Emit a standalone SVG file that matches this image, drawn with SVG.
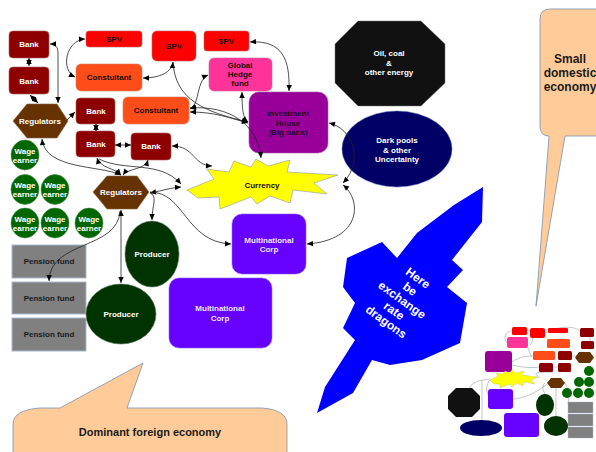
<svg xmlns="http://www.w3.org/2000/svg" width="596" height="452" viewBox="0 0 596 452">
<defs>
<marker id="ah" viewBox="0 0 10 10" refX="10" refY="5" markerWidth="7" markerHeight="6" markerUnits="userSpaceOnUse" orient="auto-start-reverse"><path d="M0,0.5 L10,5 L0,9.5 Z" fill="#000"/></marker>
<style>
.c{fill:none;stroke:#222;stroke-width:0.8}
.m{fill:none;stroke:#888;stroke-width:0.5}
.t{font-family:"Liberation Sans",Arial,sans-serif;font-size:8px;font-weight:bold;text-anchor:middle}
.w{fill:#fff}
.d{fill:#1a0a0a}
.bank{fill:#8e0000;stroke:#b06060;stroke-width:0.6}
.spv{fill:#ff0000;stroke:#c06060;stroke-width:0.6}
.cons{fill:#ff4d19;stroke:#d08060;stroke-width:0.6}
.reg{fill:#663300;stroke:#886644;stroke-width:0.6}
.wage{fill:#006600;stroke:#4a8a4a;stroke-width:0.6}
.pen{fill:#808080;stroke:#a8b8d0;stroke-width:1}
.prod{fill:#003300;stroke:#557755;stroke-width:0.6}
.mc{fill:#6600ff;stroke:#8866ff;stroke-width:0.6}
.call{fill:#ffcc99;stroke:#7890b0;stroke-width:0.8}
</style>
</defs>
<rect width="596" height="452" fill="#fff"/>

<!-- callouts -->
<g id="small-domestic-economy">
<path class="call" d="M550,9 H612 V136 H565 L536,306 L549,136 Q540,136 540,126 V19 Q540,9 550,9 Z"/>
<text class="t" style="font-size:12px" fill="#1a1a1a" x="570" y="63">Small</text>
<text class="t" style="font-size:12px" fill="#1a1a1a" x="570" y="77">domestic</text>
<text class="t" style="font-size:12px" fill="#1a1a1a" x="570" y="91">economy</text>
</g>
<g id="dominant-foreign-economy">
<path class="call" d="M13,424 Q13,410 40,408 H60 L143,363 L127,408 H262 Q287,410 287,424 V462 H13 Z"/>
<text class="t" style="font-size:11px" fill="#1a1a1a" x="150" y="436">Dominant foreign economy</text>
</g>

<!-- dragons arrow -->
<g id="dragons">
<polygon fill="#0000ff" points="483,187 454,205 417,233 397,258 382,242 347,258 343,287 355,303 343,328 355,340 325,387 317,413 353,393 372,360 390,365 422,360 460,343 467,303 447,287 463,270 452,260 482,222"/>
<text class="t w" style="font-size:12px" transform="translate(402,300) rotate(36)">
<tspan x="0" y="-23">Here</tspan><tspan x="0" y="-9.5">be</tspan><tspan x="0" y="4">exchange</tspan><tspan x="0" y="17.5">rate</tspan><tspan x="0" y="31">dragons</tspan>
</text>
</g>

<!-- nodes -->
<g id="bank1"><rect class="bank" x="9" y="31" width="40" height="27" rx="4"/><text class="t w" x="29" y="47">Bank</text></g>
<g id="bank2"><rect class="bank" x="9" y="67" width="40" height="27" rx="4"/><text class="t w" x="29" y="84">Bank</text></g>
<g id="regulators1"><polygon class="reg" points="13,121 27,104 57,104 68,121 57,138 27,138"/><text class="t w" x="40" y="124">Regulators</text></g>
<g id="spv1"><rect class="spv" x="86" y="31" width="56" height="16" rx="3"/><text class="t d" x="114" y="42">SPV</text></g>
<g id="spv2"><rect class="spv" x="152" y="31" width="44" height="30" rx="5"/><text class="t d" x="174" y="49">SPV</text></g>
<g id="spv3"><rect class="spv" x="204" y="31" width="45" height="20" rx="3"/><text class="t d" x="226" y="44">SPV</text></g>
<g id="consultant1"><rect class="cons" x="76" y="64" width="66" height="27" rx="5"/><text class="t d" x="109" y="80">Constultant</text></g>
<g id="consultant2"><rect class="cons" x="123" y="97" width="66" height="27" rx="5"/><text class="t d" x="156" y="113">Constultant</text></g>
<g id="bank3"><rect class="bank" x="76" y="98" width="39" height="26" rx="4"/><text class="t w" x="96" y="114">Bank</text></g>
<g id="bank4"><rect class="bank" x="76" y="131" width="39" height="26" rx="4"/><text class="t w" x="96" y="147">Bank</text></g>
<g id="bank5"><rect class="bank" x="131" y="133" width="40" height="27" rx="4"/><text class="t w" x="151" y="149">Bank</text></g>
<g id="global-hedge-fund"><rect x="209" y="58" width="63" height="33" rx="5" fill="#ff3399" stroke="#cc6699" stroke-width="0.6"/>
<text class="t d" x="240" y="68">Global</text><text class="t d" x="240" y="77">Hedge</text><text class="t d" x="240" y="86">fund</text></g>
<g id="investment-house"><rect x="249" y="92" width="79" height="61" rx="10" fill="#990099" stroke="#aa55aa" stroke-width="0.6"/>
<text class="t" fill="#2a002a" x="288" y="116">Investment</text><text class="t" fill="#2a002a" x="288" y="126">House</text><text class="t" fill="#2a002a" x="288" y="135">(Big bank)</text></g>
<g id="oil-coal-energy"><polygon fill="#111" stroke="#777" stroke-width="0.5" points="358,21 421,21 445,44 445,83 421,106 358,106 335,83 335,44"/>
<text class="t w" x="389" y="56">Oil, coal</text><text class="t w" x="389" y="66">&amp;</text><text class="t w" x="389" y="75">other energy</text></g>
<g id="dark-pools"><ellipse cx="397" cy="149" rx="55" ry="38" fill="#000066" stroke="#5566aa" stroke-width="0.5"/>
<text class="t w" x="397" y="143">Dark pools</text><text class="t w" x="397" y="152.5">&amp; other</text><text class="t w" x="397" y="162">Uncertainty</text></g>
<g id="currency"><polygon fill="#ffff00" stroke="#8899aa" stroke-width="0.6" points="187,190 214,179 207,169 229,172 234,161 251,167 256,159 268,166 290,160 287,172 338,175 314,183 327,194 293,190 290,203 270,196 257,204 251,197 220,209 219,197 198,198"/>
<text class="t d" x="262" y="188">Currency</text></g>
<g id="wage1"><ellipse class="wage" cx="25" cy="155" rx="14" ry="15"/><text class="t w" x="25" y="154">Wage</text><text class="t w" x="25" y="163">earner</text></g>
<g id="wage2"><ellipse class="wage" cx="25" cy="189.5" rx="14" ry="15"/><text class="t w" x="25" y="188">Wage</text><text class="t w" x="25" y="197">earner</text></g>
<g id="wage3"><ellipse class="wage" cx="55" cy="189.5" rx="14" ry="15"/><text class="t w" x="55" y="188">Wage</text><text class="t w" x="55" y="197">earner</text></g>
<g id="wage4"><ellipse class="wage" cx="25" cy="223" rx="14" ry="15"/><text class="t w" x="25" y="222">Wage</text><text class="t w" x="25" y="231">earner</text></g>
<g id="wage5"><ellipse class="wage" cx="55" cy="223" rx="14" ry="15"/><text class="t w" x="55" y="222">Wage</text><text class="t w" x="55" y="231">earner</text></g>
<g id="wage6"><ellipse class="wage" cx="89" cy="223" rx="14" ry="15"/><text class="t w" x="89" y="222">Wage</text><text class="t w" x="89" y="231">earner</text></g>
<g id="regulators2"><polygon class="reg" points="93,192 107,176 137,176 149,192 137,209 107,209"/><text class="t w" x="121" y="195">Regulators</text></g>
<g id="pension1"><rect class="pen" x="12" y="245" width="74" height="33"/><text class="t" fill="#1a1a1a" x="49" y="264">Pension fund</text></g>
<g id="pension2"><rect class="pen" x="12" y="282" width="74" height="32"/><text class="t" fill="#1a1a1a" x="49" y="301">Pension fund</text></g>
<g id="pension3"><rect class="pen" x="12" y="318" width="74" height="33"/><text class="t" fill="#1a1a1a" x="49" y="337">Pension fund</text></g>
<g id="producer1"><ellipse class="prod" cx="152" cy="254" rx="27" ry="33"/><text class="t w" x="152" y="257">Producer</text></g>
<g id="producer2"><ellipse class="prod" cx="121" cy="314" rx="35" ry="30"/><text class="t w" x="121" y="317">Producer</text></g>
<g id="multinational1"><rect class="mc" x="232" y="214" width="74" height="60" rx="10"/><text class="t" fill="#f0e8ff" x="269" y="243">Multinational</text><text class="t" fill="#f0e8ff" x="269" y="252">Corp</text></g>
<g id="multinational2"><rect class="mc" x="169" y="278" width="103" height="70" rx="10"/><text class="t" fill="#f0e8ff" x="220" y="311">Multinational</text><text class="t" fill="#f0e8ff" x="220" y="321">Corp</text></g>

<!-- connectors -->
<g id="connectors">
<path class="c" marker-start="url(#ah)" marker-end="url(#ah)" d="M50,44 C56,44 58,47 58,54 L58,103"/>
<path class="c" marker-start="url(#ah)" marker-end="url(#ah)" d="M29,58 L29,66"/>
<path class="c" marker-start="url(#ah)" marker-end="url(#ah)" d="M30,95 L38,103"/>
<path class="c" marker-end="url(#ah)" d="M67,120 L75,112"/>
<path class="c" marker-start="url(#ah)" marker-end="url(#ah)" d="M96,124 L96,131"/>
<path class="c" marker-start="url(#ah)" marker-end="url(#ah)" d="M115,145 L131,145"/>
<path class="c" marker-start="url(#ah)" marker-end="url(#ah)" d="M85,39 C66,40 60,70 75,77"/>
<path class="c" marker-start="url(#ah)" marker-end="url(#ah)" d="M173,62 C172,72 160,78 143,78"/>
<path class="c" marker-end="url(#ah)" d="M173,62 C175,100 205,112 248,122"/>
<path class="c" marker-start="url(#ah)" marker-end="url(#ah)" d="M190,109 C200,105 196,80 208,75"/>
<path class="c" marker-start="url(#ah)" marker-end="url(#ah)" d="M190,112 C215,112 230,118 248,123"/>
<path class="c" marker-start="url(#ah)" marker-end="url(#ah)" d="M190,108 C230,105 258,125 261,158"/>
<path class="c" marker-start="url(#ah)" marker-end="url(#ah)" d="M242,92 C242,110 243,118 248,122"/>
<path class="c" marker-start="url(#ah)" marker-end="url(#ah)" d="M250,42 C283,40 290,60 289,91"/>
<path class="c" marker-start="url(#ah)" marker-end="url(#ah)" d="M329,123 C352,128 365,160 343,183"/>
<path class="c" marker-start="url(#ah)" marker-end="url(#ah)" d="M343,185 C362,200 362,240 307,244"/>
<path class="c" marker-start="url(#ah)" marker-end="url(#ah)" d="M172,146 C195,146 192,165 212,166"/>
<path class="c" marker-start="url(#ah)" marker-end="url(#ah)" d="M42,139 C45,170 100,165 121,175"/>
<path class="c" marker-start="url(#ah)" marker-end="url(#ah)" d="M97,158 C100,168 115,168 121,175"/>
<path class="c" marker-start="url(#ah)" marker-end="url(#ah)" d="M148,160 C145,170 128,168 123,175"/>
<path class="c" marker-end="url(#ah)" d="M99,159 C125,172 160,160 181,184"/>
<path class="c" marker-start="url(#ah)" marker-end="url(#ah)" d="M150,193 C165,190 170,188 181,187"/>
<path class="c" marker-end="url(#ah)" d="M150,193 C158,196 152,205 152,220"/>
<path class="c" marker-end="url(#ah)" d="M150,192 C185,192 185,242 231,244"/>
<path class="c" marker-start="url(#ah)" marker-end="url(#ah)" d="M121,210 L121,283"/>
<path class="c" marker-end="url(#ah)" d="M120,211 C118,250 50,240 49,281"/>
</g>

<!-- thumbnail copy -->
<g id="thumbnail">
<path class="m" d="M512,331 C505,331 503,338 507,343 M527,330 C533,330 535,340 530,345 M545,333 C560,325 580,325 582,335 M590,337 L590,341 M512,362 C520,356 528,356 533,356 M512,365 C525,368 535,368 539,367 M528,348 C530,352 530,356 532,356 M572,356 L575,356 M553,367 L558,367 M490,380 C486,384 486,392 488,395 M482,380 L482,420 M565,383 C568,388 570,395 568,404 M556,388 L556,416 M545,383 C540,387 545,393 545,394 M513,399 C525,399 540,390 547,384 M470,388 C470,384 478,380 490,379 M540,378 C535,374 530,372 553,372"/>
<rect x="512" y="327" width="15" height="8" rx="1.5" fill="#ff0000"/>
<rect x="530" y="328" width="15" height="10" rx="2" fill="#ff0000"/>
<rect x="548" y="328" width="20" height="5" rx="1" fill="#ff0000"/>
<rect x="580" y="328" width="14" height="9" rx="1.5" fill="#8e0000"/>
<rect x="507" y="337" width="21" height="11" rx="2" fill="#ff3399"/>
<rect x="547" y="339" width="23" height="9" rx="1.5" fill="#ff4d19"/>
<rect x="581" y="341" width="13" height="8" rx="1.5" fill="#8e0000"/>
<rect x="485" y="351" width="27" height="21" rx="3" fill="#990099"/>
<rect x="533" y="351" width="22" height="9" rx="1.5" fill="#ff4d19"/>
<rect x="558" y="351" width="14" height="9" rx="1.5" fill="#8e0000"/>
<polygon points="575,357.5 579,352 590,352 594,357.5 590,363 579,363" fill="#663300"/>
<rect x="539" y="363" width="14" height="9" rx="1.5" fill="#8e0000"/>
<rect x="558" y="363" width="13" height="9" rx="1.5" fill="#8e0000"/>
<polygon points="490,380 498,376 496,373 503,374 505,371 510,373 512,370 516,373 524,371 522,375 538,377 531,380 535,384 524,382 523,386 517,383 512,387 510,384 500,388 500,384 494,384" fill="#ffff00" stroke="#99a" stroke-width="0.3"/>
<polygon points="547,383 551,378 561,378 565,383 561,388 551,388" fill="#663300"/>
<circle cx="589" cy="371" r="5" fill="#006600"/>
<circle cx="579" cy="382" r="5" fill="#006600"/>
<circle cx="589" cy="382" r="5" fill="#006600"/>
<circle cx="567" cy="393" r="5" fill="#006600"/>
<circle cx="578" cy="393" r="5" fill="#006600"/>
<circle cx="589" cy="393" r="5" fill="#006600"/>
<polygon points="456,388 472,388 480,396 480,409 472,417 456,417 448,409 448,396" fill="#111"/>
<rect x="488" y="389" width="25" height="20" rx="3" fill="#6600ff"/>
<ellipse cx="545" cy="405" rx="9" ry="11" fill="#003300"/>
<rect x="568" y="402" width="25" height="11" fill="#808080" stroke="#a8b8d0" stroke-width="0.4"/>
<rect x="568" y="414" width="25" height="12" fill="#808080" stroke="#a8b8d0" stroke-width="0.4"/>
<rect x="568" y="427" width="25" height="11" fill="#808080" stroke="#a8b8d0" stroke-width="0.4"/>
<ellipse cx="481" cy="428" rx="21" ry="8" fill="#000066"/>
<rect x="504" y="413" width="35" height="24" rx="3" fill="#6600ff"/>
<ellipse cx="556" cy="426" rx="12" ry="10" fill="#003300"/>
</g>
</svg>
